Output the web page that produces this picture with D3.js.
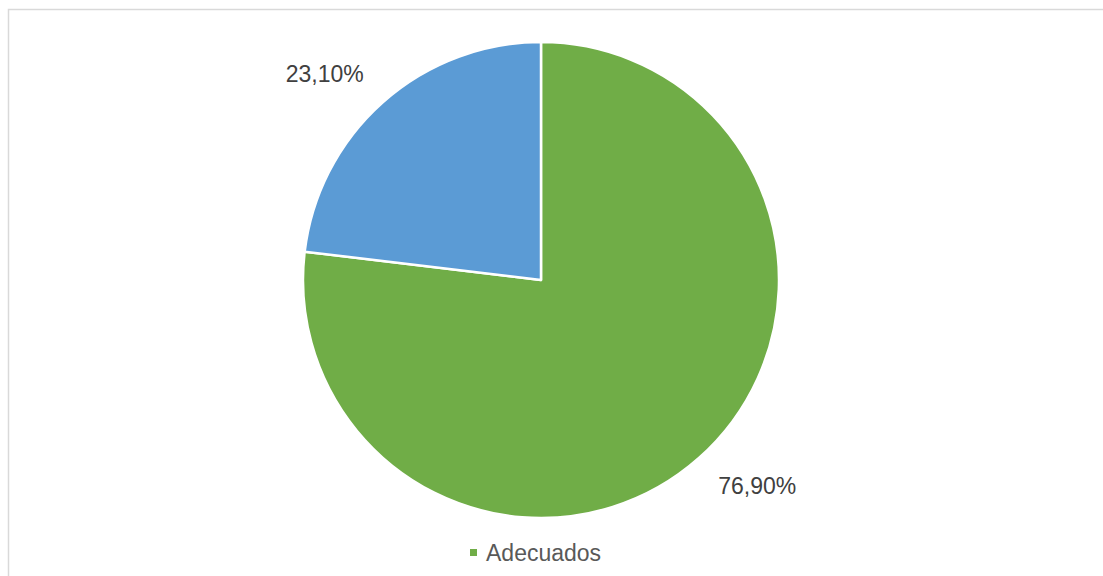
<!DOCTYPE html>
<html>
<head>
<meta charset="utf-8">
<script src="https://cdn.jsdelivr.net/npm/d3@7"></script>
<style>
	html, body { margin: 0; padding: 0; background: #fff; }
	svg { display: block; font-family: Arial, "Liberation Sans", sans-serif; }
</style>
</head>
<body>
<svg id="chart" width="1103" height="576"></svg>
<script>
// data
var categories = ["Adecuados", "Inadecuados"];
var values = [76.9, 23.1];
var labels = ["76,90%", "23,10%"];
var colors = ["#70AD47", "#5B9BD5"];
var legendItems = ["Adecuados"];

var W = 1103, H = 576;
var svg = d3.select("#chart");

// chart frame (runs past the right / bottom edge)
svg.append("rect")
	.attr("x", 8.5).attr("y", 9.5)
	.attr("width", W + 20).attr("height", H + 20)
	.attr("fill", "#fff").attr("stroke", "#d9d9d9").attr("stroke-width", 1.5);

var cx = 541, cy = 280, r = 238;
var g = svg.append("g").attr("transform", "translate(" + cx + "," + cy + ")");

var pie = d3.pie().sort(null).value(function(d){ return d; });
var arcs = pie(values);
var arc = d3.arc().innerRadius(0).outerRadius(r);

g.selectAll("path.slice").data(arcs).enter().append("path")
	.attr("class", "slice")
	.attr("d", arc)
	.attr("fill", function(d, i){ return colors[i]; })
	.attr("stroke", "#fff").attr("stroke-width", 2.5)
	.attr("stroke-linejoin", "round");

// labels outside the slices, excel "best fit" sits a bit before the mid angle
var labR = 299, shift = -0.083;
g.selectAll("text.lbl").data(arcs).enter().append("text")
	.attr("class", "lbl")
	.attr("x", function(d){ var a = (d.startAngle + d.endAngle) / 2 + shift; return Math.sin(a) * labR; })
	.attr("y", function(d){ var a = (d.startAngle + d.endAngle) / 2 + shift; return -Math.cos(a) * labR; })
	.attr("dy", "0.35em")
	.attr("text-anchor", "middle")
	.attr("font-size", 23)
	.attr("fill", "#404040")
	.text(function(d, i){ return labels[i]; });

// legend
var lg = svg.append("g").attr("transform", "translate(470,549)");
var item = lg.selectAll("g.item").data(legendItems).enter().append("g").attr("class", "item");
item.append("rect").attr("width", 7).attr("height", 7)
	.attr("fill", function(d){ return colors[categories.indexOf(d)]; });
item.append("text").attr("x", 16).attr("y", 3.5).attr("dy", "0.36em")
	.attr("font-size", 23).attr("fill", "#595959")
	.text(function(d){ return d; });
</script>
</body>
</html>
